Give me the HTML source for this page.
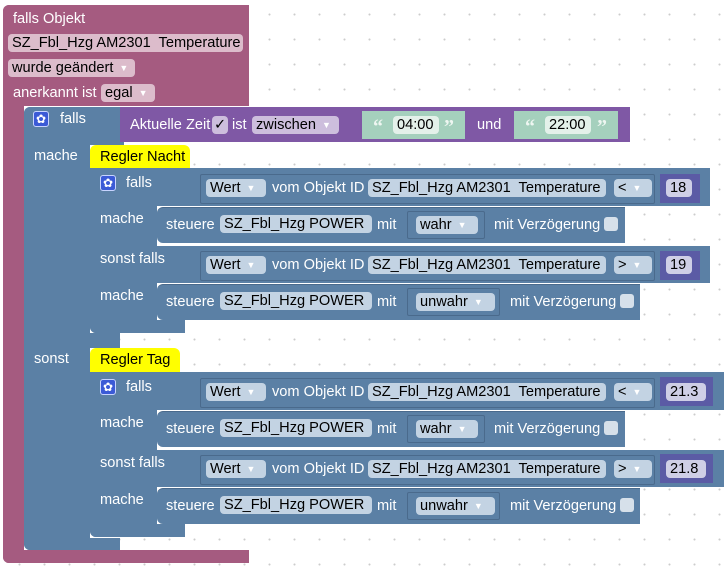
<!DOCTYPE html>
<html><head><meta charset="utf-8"><style>
body{margin:0;width:728px;height:569px;overflow:hidden;background:#fff;
background-image:radial-gradient(circle,#ccc 0.8px,transparent 1.2px);background-size:25px 25px;background-position:7px 2px;
font-family:"Liberation Sans",sans-serif;font-size:14.6px;}
.a{position:absolute;box-sizing:border-box}
.m{background:#a55b80}
.b{background:#5b80a5}
.p{background:#7f58a5}
.t{position:absolute;color:#fff;white-space:nowrap;line-height:16px}
.q{position:absolute;color:#eef6f1;font-size:20px;font-weight:bold;font-family:"Liberation Serif",serif;line-height:20px}
.pl{position:absolute;box-sizing:border-box;border-radius:4px;color:#000;white-space:nowrap;line-height:18px;height:18px;padding:0 4px}
.pm{background:#dcbccb}
.pb{background:#c3d3e3}
.pp{background:#cdbedd}
.ar{color:#fff;font-size:9px;margin-left:6px;vertical-align:1px}
.cb{position:absolute;width:14px;height:14px;border-radius:3px;background:#d6e0ea}
.gear{position:absolute;width:16px;height:16px;border-radius:3px;background:#3b5ad6;border:1px solid #c8d4ff;box-sizing:border-box;color:#fff;font-size:12px;line-height:14px;text-align:center}
.y{background:#ffff00;border-radius:6px 6px 0 0}
.out{position:absolute;box-sizing:border-box;border:1px solid #4a6a8c;border-radius:2px}
</style></head><body>

<div class="a m" style="left:3px;top:5px;width:246px;height:101px;border-radius:6px 0 0 0"></div>
<div class="a m" style="left:3px;top:5px;width:21px;height:558px;border-radius:6px 0 0 6px"></div>
<div class="a m" style="left:3px;top:550px;width:246px;height:13px;border-radius:0 0 0 6px"></div>
<div class="t" style="left:13px;top:11px">falls Objekt</div>
<div class="pl pm" style="left:8px;top:34px;width:235px">SZ_Fbl_Hzg AM2301&nbsp; Temperature</div>
<div class="pl pm" style="left:8px;top:59px;width:127px">wurde geändert<span class="ar">▼</span></div>
<div class="t" style="left:13px;top:85px">anerkannt ist</div>
<div class="pl pm" style="left:101px;top:84px;width:54px">egal<span class="ar">▼</span></div>

<div class="a b" style="left:24px;top:107px;width:100px;height:38px;border-radius:6px 0 0 0"></div>
<div class="a b" style="left:24px;top:107px;width:66px;height:443px;border-radius:6px 0 0 6px"></div>
<div class="a b" style="left:24px;top:538px;width:96px;height:12px;border-radius:0 0 0 6px"></div>
<div class="a b" style="left:90px;top:333px;width:30px;height:15px"></div>
<div class="gear" style="left:33px;top:111px">✿</div>
<div class="t" style="left:60px;top:111px">falls</div>
<div class="t" style="left:34px;top:148px">mache</div>
<div class="t" style="left:34px;top:351px">sonst</div>

<div class="a p" style="left:120px;top:107px;width:510px;height:35px"></div>
<div class="t" style="left:130px;top:117px">Aktuelle Zeit</div>
<div class="pl pp" style="left:212px;top:116px;width:16px;padding:0 2px">✓</div>
<div class="t" style="left:232px;top:117px">ist</div>
<div class="pl pp" style="left:252px;top:116px;width:87px">zwischen<span class="ar">▼</span></div>
<div class="a" style="left:362px;top:111px;width:103px;height:28px;background:#a5d0bd"></div>
<div class="q" style="left:373px;top:117px">“</div>
<div class="pl" style="left:393px;top:116px;width:46px;background:#e4f1ea">04:00</div>
<div class="q" style="left:444px;top:117px">”</div>
<div class="t" style="left:477px;top:117px">und</div>
<div class="a" style="left:514px;top:111px;width:104px;height:28px;background:#a5d0bd"></div>
<div class="q" style="left:525px;top:117px">“</div>
<div class="pl" style="left:545px;top:116px;width:46px;background:#e4f1ea">22:00</div>
<div class="q" style="left:597px;top:117px">”</div>

<div class="a y" style="left:90px;top:145px;width:100px;height:24px"></div>
<div class="t" style="left:100px;top:149px;color:#000">Regler Nacht</div>

<div class="a b" style="left:90px;top:168px;width:67px;height:165px;border-radius:0 0 0 6px"></div>
<div class="a b" style="left:90px;top:320px;width:95px;height:13px;border-radius:0 0 0 6px"></div>
<div class="a b" style="left:90px;top:168px;width:620px;height:38px"></div>
<div class="a b" style="left:90px;top:246px;width:620px;height:37px"></div>
<div class="gear" style="left:100px;top:175px">✿</div>
<div class="t" style="left:126px;top:175px">falls</div>
<div class="t" style="left:100px;top:211px">mache</div>
<div class="t" style="left:100px;top:251px">sonst falls</div>
<div class="t" style="left:100px;top:288px">mache</div>

<div class="out" style="left:200px;top:174px;width:455px;height:30px"></div>
<div class="pl pb" style="left:206px;top:179px;width:60px">Wert<span class="ar">▼</span></div>
<div class="t" style="left:272px;top:180px">vom Objekt ID</div>
<div class="pl pb" style="left:368px;top:179px;width:238px">SZ_Fbl_Hzg AM2301&nbsp; Temperature</div>
<div class="pl pb" style="left:614px;top:179px;width:38px">&lt;<span class="ar">▼</span></div>
<div class="a" style="left:660px;top:174px;width:40px;height:29px;background:#5b5ba5"></div>
<div class="pl" style="left:666px;top:179px;width:26px;background:#cfcfe6">18</div>

<div class="a b" style="left:157px;top:207px;width:468px;height:36px;border-radius:6px 0 0 6px;border-top:1px solid #4a6a8c"></div>
<div class="t" style="left:166px;top:217px">steuere</div>
<div class="pl pb" style="left:220px;top:215px;width:152px">SZ_Fbl_Hzg POWER</div>
<div class="t" style="left:377px;top:217px">mit</div>
<div class="out" style="left:407px;top:211px;width:78px;height:28px"></div>
<div class="pl pb" style="left:416px;top:216px;width:62px">wahr<span class="ar">▼</span></div>
<div class="t" style="left:494px;top:217px">mit Verzögerung</div>
<div class="cb" style="left:604px;top:217px"></div>

<div class="out" style="left:200px;top:251px;width:455px;height:30px"></div>
<div class="pl pb" style="left:206px;top:256px;width:60px">Wert<span class="ar">▼</span></div>
<div class="t" style="left:272px;top:257px">vom Objekt ID</div>
<div class="pl pb" style="left:368px;top:256px;width:238px">SZ_Fbl_Hzg AM2301&nbsp; Temperature</div>
<div class="pl pb" style="left:614px;top:256px;width:38px">&gt;<span class="ar">▼</span></div>
<div class="a" style="left:660px;top:251px;width:40px;height:29px;background:#5b5ba5"></div>
<div class="pl" style="left:666px;top:256px;width:26px;background:#cfcfe6">19</div>

<div class="a b" style="left:157px;top:284px;width:483px;height:36px;border-radius:6px 0 0 6px;border-top:1px solid #4a6a8c"></div>
<div class="t" style="left:166px;top:294px">steuere</div>
<div class="pl pb" style="left:220px;top:292px;width:152px">SZ_Fbl_Hzg POWER</div>
<div class="t" style="left:377px;top:294px">mit</div>
<div class="out" style="left:407px;top:288px;width:93px;height:28px"></div>
<div class="pl pb" style="left:416px;top:293px;width:79px">unwahr<span class="ar">▼</span></div>
<div class="t" style="left:510px;top:294px">mit Verzögerung</div>
<div class="cb" style="left:620px;top:294px"></div>

<div class="a y" style="left:90px;top:348px;width:90px;height:25px"></div>
<div class="t" style="left:100px;top:352px;color:#000">Regler Tag</div>

<div class="a b" style="left:90px;top:372px;width:67px;height:165px;border-radius:0 0 0 6px"></div>
<div class="a b" style="left:90px;top:524px;width:95px;height:13px;border-radius:0 0 0 6px"></div>
<div class="a b" style="left:90px;top:372px;width:634px;height:38px"></div>
<div class="a b" style="left:90px;top:450px;width:634px;height:37px"></div>
<div class="gear" style="left:100px;top:379px">✿</div>
<div class="t" style="left:126px;top:379px">falls</div>
<div class="t" style="left:100px;top:415px">mache</div>
<div class="t" style="left:100px;top:455px">sonst falls</div>
<div class="t" style="left:100px;top:492px">mache</div>

<div class="out" style="left:200px;top:378px;width:455px;height:30px"></div>
<div class="pl pb" style="left:206px;top:383px;width:60px">Wert<span class="ar">▼</span></div>
<div class="t" style="left:272px;top:384px">vom Objekt ID</div>
<div class="pl pb" style="left:368px;top:383px;width:238px">SZ_Fbl_Hzg AM2301&nbsp; Temperature</div>
<div class="pl pb" style="left:614px;top:383px;width:38px">&lt;<span class="ar">▼</span></div>
<div class="a" style="left:660px;top:377px;width:53px;height:29px;background:#5b5ba5"></div>
<div class="pl" style="left:666px;top:383px;width:40px;background:#cfcfe6">21.3</div>

<div class="a b" style="left:157px;top:411px;width:468px;height:36px;border-radius:6px 0 0 6px;border-top:1px solid #4a6a8c"></div>
<div class="t" style="left:166px;top:421px">steuere</div>
<div class="pl pb" style="left:220px;top:419px;width:152px">SZ_Fbl_Hzg POWER</div>
<div class="t" style="left:377px;top:421px">mit</div>
<div class="out" style="left:407px;top:415px;width:78px;height:28px"></div>
<div class="pl pb" style="left:416px;top:420px;width:62px">wahr<span class="ar">▼</span></div>
<div class="t" style="left:494px;top:421px">mit Verzögerung</div>
<div class="cb" style="left:604px;top:421px"></div>

<div class="out" style="left:200px;top:455px;width:455px;height:30px"></div>
<div class="pl pb" style="left:206px;top:460px;width:60px">Wert<span class="ar">▼</span></div>
<div class="t" style="left:272px;top:461px">vom Objekt ID</div>
<div class="pl pb" style="left:368px;top:460px;width:238px">SZ_Fbl_Hzg AM2301&nbsp; Temperature</div>
<div class="pl pb" style="left:614px;top:460px;width:38px">&gt;<span class="ar">▼</span></div>
<div class="a" style="left:660px;top:454px;width:53px;height:29px;background:#5b5ba5"></div>
<div class="pl" style="left:666px;top:460px;width:40px;background:#cfcfe6">21.8</div>

<div class="a b" style="left:157px;top:488px;width:483px;height:36px;border-radius:6px 0 0 6px;border-top:1px solid #4a6a8c"></div>
<div class="t" style="left:166px;top:498px">steuere</div>
<div class="pl pb" style="left:220px;top:496px;width:152px">SZ_Fbl_Hzg POWER</div>
<div class="t" style="left:377px;top:498px">mit</div>
<div class="out" style="left:407px;top:492px;width:93px;height:28px"></div>
<div class="pl pb" style="left:416px;top:497px;width:79px">unwahr<span class="ar">▼</span></div>
<div class="t" style="left:510px;top:498px">mit Verzögerung</div>
<div class="cb" style="left:620px;top:498px"></div>

</body></html>
